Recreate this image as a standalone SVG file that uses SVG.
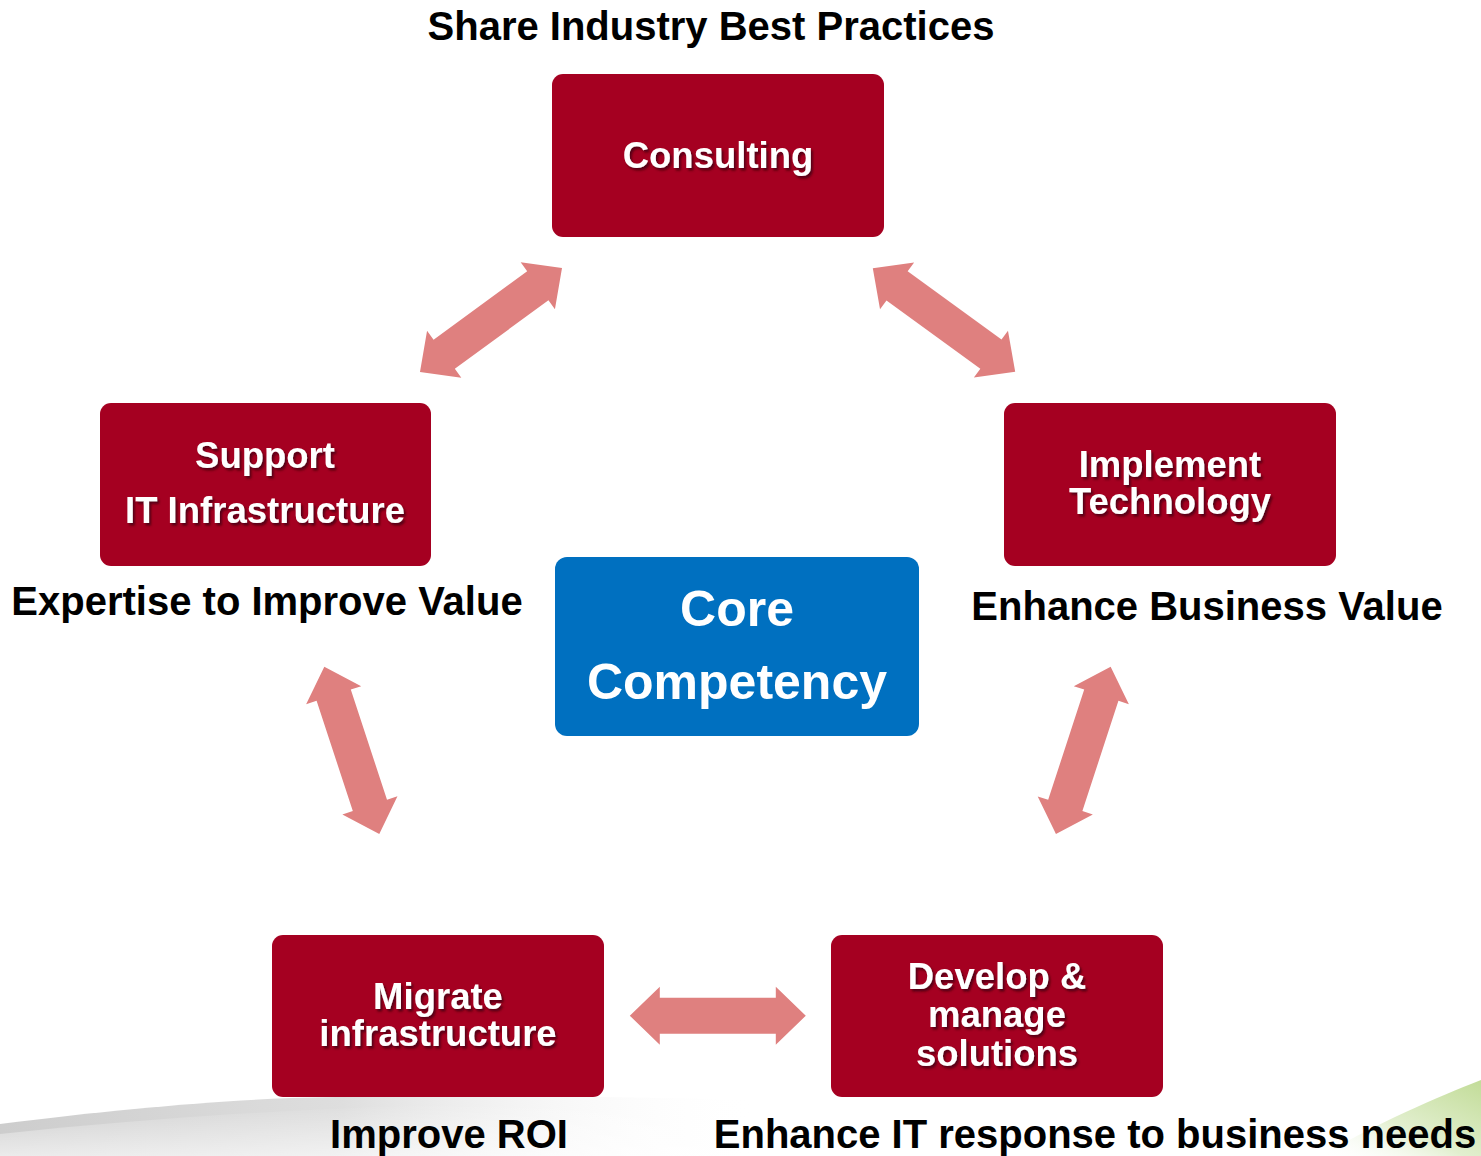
<svg xmlns="http://www.w3.org/2000/svg" width="1481" height="1156" viewBox="0 0 1481 1156">
<style>
.box{fill:#A50021;}
.core{fill:#0070C0;}
.nt{font-family:"Liberation Sans",Arial,sans-serif;font-weight:bold;font-size:36.5px;fill:#fff;text-anchor:middle;filter:url(#sh);}
.ct{font-family:"Liberation Sans",Arial,sans-serif;font-weight:bold;font-size:50px;fill:#fff;text-anchor:middle;}
.lb{font-family:"Liberation Sans",Arial,sans-serif;font-weight:bold;font-size:40px;fill:#000;}
.arr{fill:#DF807F;}
</style>
<defs>
<filter id="sh" x="-10%" y="-20%" width="120%" height="150%">
<feDropShadow dx="2" dy="2.5" stdDeviation="1" flood-color="#3a0010" flood-opacity="0.75"/>
</filter>
<polygon id="dbl" points="-88,0 -58,-29 -58,-18 58,-18 58,-29 88,0 58,29 58,18 -58,18 -58,29"/>
<linearGradient id="gg" x1="0" y1="0" x2="1" y2="0">
<stop offset="0" stop-color="#c4c4c4"/>
<stop offset="0.45" stop-color="#d8d8d8"/>
<stop offset="1" stop-color="#ffffff" stop-opacity="0"/>
</linearGradient>
<linearGradient id="gv" x1="0" y1="0" x2="0" y2="1">
<stop offset="0" stop-color="#ffffff" stop-opacity="0"/>
<stop offset="1" stop-color="#ffffff" stop-opacity="0.6"/>
</linearGradient>
<linearGradient id="gr" x1="0" y1="1" x2="1" y2="0">
<stop offset="0" stop-color="#ffffff" stop-opacity="0"/>
<stop offset="0.45" stop-color="#e2efcf"/>
<stop offset="1" stop-color="#c2dc98"/>
</linearGradient>
</defs>
<rect width="1481" height="1156" fill="#fff"/>
<g id="background">
<path d="M0,1124 C110,1110 200,1102 290,1098 C450,1094 600,1096 760,1100 L760,1156 L0,1156 Z" fill="url(#gg)" opacity="0.85"/>
<path d="M0,1134 C150,1118 300,1108 480,1104 L760,1108 L760,1156 L0,1156 Z" fill="url(#gv)"/>
<path d="M1320,1156 C1380,1122 1435,1098 1481,1080 L1481,1156 Z" fill="url(#gr)"/>
</g>
<g id="connectors">
<use href="#dbl" class="arr" transform="translate(491,320) rotate(-36.2)"/>
<use href="#dbl" class="arr" transform="translate(944,320) rotate(36)"/>
<use href="#dbl" class="arr" transform="translate(351.8,750.3) rotate(71.8)"/>
<use href="#dbl" class="arr" transform="translate(1083.3,750.3) rotate(108.1)"/>
<use href="#dbl" class="arr" transform="translate(717.8,1015.7)"/>
</g>
<g id="title"><text class="lb" x="711" y="40" text-anchor="middle">Share Industry Best Practices</text></g>
<g id="consulting">
<rect class="box" x="552" y="74" width="332" height="163" rx="11"/>
<text class="nt" x="718" y="168">Consulting</text>
</g>
<g id="support">
<rect class="box" x="100" y="403" width="331" height="163" rx="11"/>
<text class="nt" x="265" y="468">Support</text>
<text class="nt" x="265" y="523">IT Infrastructure</text>
</g>
<g id="implement">
<rect class="box" x="1004" y="403" width="332" height="163" rx="11"/>
<text class="nt" x="1170" y="477">Implement</text>
<text class="nt" x="1170" y="514">Technology</text>
</g>
<g id="migrate">
<rect class="box" x="272" y="935" width="332" height="162" rx="11"/>
<text class="nt" x="438" y="1009">Migrate</text>
<text class="nt" x="438" y="1046">infrastructure</text>
</g>
<g id="develop">
<rect class="box" x="831" y="935" width="332" height="162" rx="11"/>
<text class="nt" x="997" y="989">Develop &amp;</text>
<text class="nt" x="997" y="1027">manage</text>
<text class="nt" x="997" y="1066">solutions</text>
</g>
<g id="core">
<rect class="core" x="555" y="557" width="364" height="179" rx="12"/>
<text class="ct" x="737" y="626">Core</text>
<text class="ct" x="737" y="699">Competency</text>
</g>
<g id="labels">
<text class="lb" x="267" y="615" text-anchor="middle">Expertise to Improve Value</text>
<text class="lb" x="1207" y="620" text-anchor="middle">Enhance Business Value</text>
<text class="lb" x="449" y="1148" text-anchor="middle">Improve ROI</text>
<text class="lb" x="1095" y="1148" text-anchor="middle">Enhance IT response to business needs</text>
</g>
</svg>
